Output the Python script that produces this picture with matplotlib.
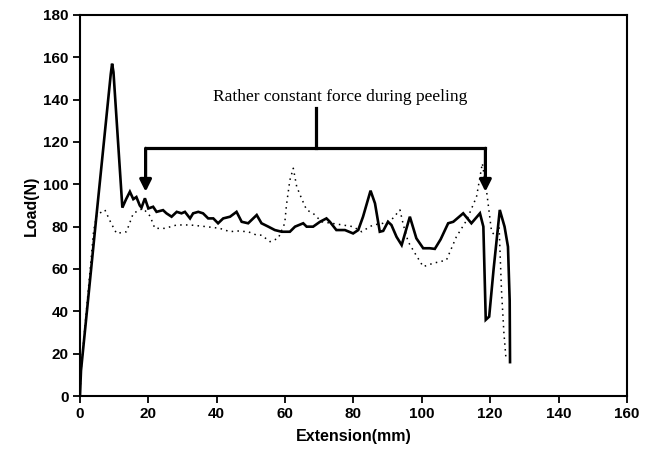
import matplotlib
matplotlib.use("Agg")
import matplotlib.pyplot as plt

# Solid curve (sample 1)
solid_x = [0, 0.3, 4.5, 9.0, 9.4, 9.8, 12.4, 13.5, 14.6, 15.6, 16.5, 17.5, 18.0, 19.0, 20.0, 21.4,
           22.4, 24.3, 25.3, 26.8, 28.3, 29.7, 30.7, 32.2, 33.1, 34.6, 36.0, 37.5, 39.0,
           40.4, 41.9, 43.9, 45.8, 47.3, 49.2, 51.7, 53.1, 55.1, 57.0, 59.0, 61.4, 62.9,
           65.3, 66.3, 68.2, 70.2, 72.1, 73.1, 75.0, 77.5, 79.9, 81.4, 82.8, 85.0, 86.3,
           87.7, 88.7, 90.1, 91.1, 92.6, 94.1, 96.5, 98.4, 100.4, 102.3, 103.8, 105.5,
           107.7, 109.2, 112.1, 114.5, 117.0, 118.0, 118.7, 119.7, 121.0, 122.8, 124.2,
           125.2, 125.7, 125.8]
solid_y = [0, 12, 80, 152, 157, 153, 89, 93, 96.5, 93, 94, 90, 89, 93.4, 88.6, 89.4,
           87, 87.8, 86.3, 84.7, 87, 86.3, 87, 83.9, 86.3, 87, 86.3, 83.9, 83.9,
           81.6, 83.9, 84.7, 87, 82.3, 81.6, 85.5, 81.6, 80, 78.4, 77.6, 77.6, 80,
           81.6, 80, 80, 82.3, 83.9, 82.3, 78.4, 78.4, 76.8, 78.4, 84.7, 97, 91,
           77.6, 78, 82.3, 80.8, 75.2, 71.3, 84.7, 74.5, 69.8, 69.8, 69.5, 74,
           81.6, 82.3, 86.3, 81.6, 86.3, 80, 36, 37.5, 60, 87.9, 80,
           70.5, 45, 16]

# Dotted curve (sample 2)
dot_x = [0, 0.3, 4.0, 4.9, 7.3, 9.0, 10.7, 13.6, 15.6, 17.5, 18.5, 20.5, 21.9, 24.8,
         28.3, 32.2, 37.0, 40.9, 43.9, 45.8, 49.2, 51.7, 53.1, 55.6, 58.0, 59.9,
         60.4, 61.4, 62.4, 63.4, 64.8, 66.3, 68.2, 70.7, 73.6, 76.0, 79.9, 82.4,
         84.8, 85.8, 88.7, 91.0, 93.6, 94.6, 96.0, 98.0, 100.4, 103.3, 107.2,
         110.1, 113.1, 116.0, 117.7, 118.9, 120.4, 121.9, 122.6, 123.3, 124.0, 124.6]
dot_y = [0, 12, 78, 85.5, 87.9, 82, 76.8, 77.6, 86.3, 87.9, 88.6, 85, 79.2, 79.2,
         80.8, 80.8, 80, 79.2, 77.6, 78, 77.6, 76, 76, 72.9, 74.5, 81.6,
         90.2, 102, 107.6, 98.9, 93.4, 87.9, 86.3, 82.3, 81.6, 81, 80, 77.6,
         80, 80.8, 81.6, 83, 87.9, 80.8, 72.9, 67.4, 61.1, 62.7, 64.2,
         75.2, 83, 94.1, 109.9, 97.3, 77.6, 75, 80, 50, 30, 18]

x_ticks = [0, 20, 40, 60, 80, 100, 120, 140, 160]
y_ticks = [0, 20, 40, 60, 80, 100, 120, 140, 160, 180]
note_text = "Rather constant force during peeling"

fig = plt.figure(figsize=(6.47, 4.5), dpi=100)
ax = fig.add_axes([0.1236, 0.12, 0.8454, 0.8467])

ax.plot(dot_x, dot_y, color="black", lw=1.1, linestyle=(0, (1, 2.8)))
ax.plot(solid_x, solid_y, color="black", lw=1.9, solid_joinstyle="miter")

# bracket annotation
bracket_top = 117
ax.plot([19.2, 118.6], [bracket_top, bracket_top], color="black", lw=2.3,
        solid_capstyle="projecting")
ax.plot([69.0, 69.0], [bracket_top, 136], color="black", lw=2.3)
for bx in [19.2, 118.6]:
    ax.annotate("", xy=(bx, 96.5), xytext=(bx, bracket_top),
                arrowprops=dict(arrowstyle="-|>,head_length=0.7,head_width=0.35",
                                color="black", lw=2.3, shrinkA=0, shrinkB=0))
ax.text(76.1, 141.3, note_text, ha="center", va="center",
        family="Liberation Serif", fontsize=12.5)

ax.set_xlim(0, 160)
ax.set_ylim(0, 180)
ax.set_xticks(x_ticks)
ax.set_yticks(y_ticks)
tick_font = dict(family=["Liberation Sans Narrow", "Liberation Sans"],
                 weight="bold", size=11)
ax.set_xticklabels([str(t) for t in x_ticks], fontdict=tick_font)
ax.set_yticklabels([str(t) for t in y_ticks], fontdict=tick_font)
ax.tick_params(direction="out", length=5, width=1.3, pad=3)
for s in ax.spines.values():
    s.set_linewidth(1.5)

ax.set_xlabel("Extension(mm)", family="Liberation Sans", weight="bold",
              fontsize=11.5, labelpad=6)
ax.set_ylabel("Load(N)", family="Liberation Sans", weight="bold",
              fontsize=11.5, labelpad=3)

plt.savefig("out.png", dpi=100)
plt.close()
